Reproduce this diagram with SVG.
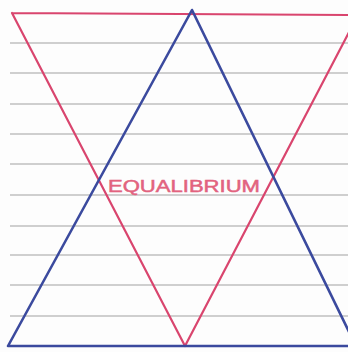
<svg xmlns="http://www.w3.org/2000/svg" width="348" height="352" viewBox="0 0 348 352">
<style>
.rule{stroke:#cfcfcf;stroke-width:2;fill:none}
.red{stroke:#d9456e;stroke-width:2.2;fill:none;stroke-linejoin:round;stroke-linecap:round}
.blue{stroke:#3b4a9e;stroke-width:2.6;fill:none;stroke-linejoin:round;stroke-linecap:round}
.lbl{font-family:"Liberation Sans",Arial,sans-serif;font-size:17px;fill:#e2637f;stroke:#e2637f;stroke-width:0.5}
</style>
<rect width="348" height="352" fill="#fdfdfd"/>
<g id="rules">
<line class="rule" x1="10" y1="43" x2="348" y2="43"/>
<line class="rule" x1="10" y1="73" x2="348" y2="73"/>
<line class="rule" x1="10" y1="104" x2="348" y2="104"/>
<line class="rule" x1="10" y1="134" x2="348" y2="134"/>
<line class="rule" x1="10" y1="164" x2="348" y2="164"/>
<line class="rule" x1="10" y1="195" x2="348" y2="195"/>
<line class="rule" x1="10" y1="226" x2="348" y2="226"/>
<line class="rule" x1="10" y1="255" x2="348" y2="255"/>
<line class="rule" x1="10" y1="285" x2="348" y2="285"/>
<line class="rule" x1="10" y1="316" x2="348" y2="316"/>
</g>
<g id="red-triangle">
<path class="red" d="M12,13 L352,15 M12,13 L185,346 L358,15"/>
</g>
<g id="blue-triangle">
<path class="blue" d="M8,346 L192,10 L352,338 M8,346 L350,346"/>
</g>
<g id="label">
<text class="lbl" x="108" y="192" textLength="152" lengthAdjust="spacingAndGlyphs">EQUALIBRIUM</text>
</g>
</svg>
